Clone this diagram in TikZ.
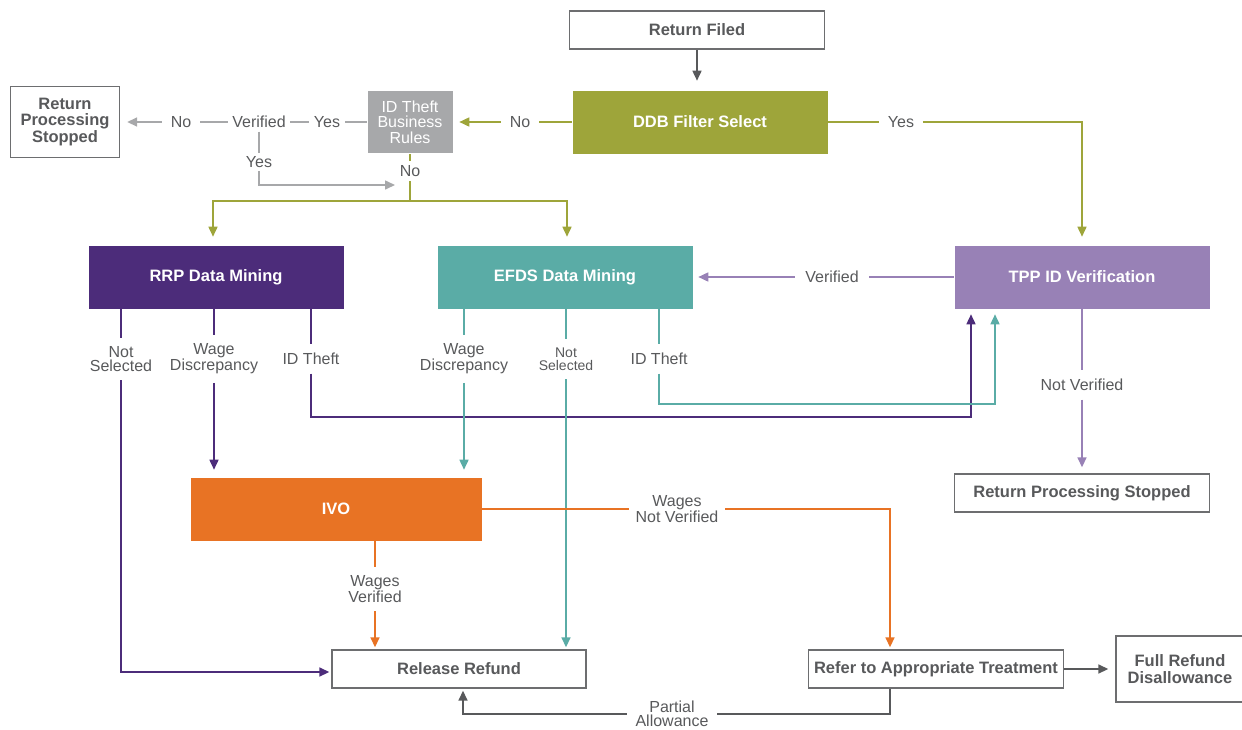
\documentclass[tikz,border=0pt]{standalone}
\usepackage{fontspec}
\setmainfont{Liberation Sans}
\usetikzlibrary{arrows.meta,positioning}
\definecolor{ddbgreen}{HTML}{9EA53A}
\definecolor{rulegray}{HTML}{A7A8AA}
\definecolor{rrppurple}{HTML}{4C2C7A}
\definecolor{efdsteal}{HTML}{5AACA6}
\definecolor{tpplilac}{HTML}{9881B6}
\definecolor{ivoorange}{HTML}{E87324}
\definecolor{txtgray}{HTML}{58595B}
\definecolor{boxgray}{HTML}{6D6E70}

\begin{document}
\begin{tikzpicture}[x=1pt,y=-1pt,line width=1.6pt,
                    >={Triangle[length=10pt,width=9pt]},
                    box node/.style={rectangle,draw=boxgray,line width=1.4pt,fill=white,text=txtgray,
                      font=\bfseries\fontsize{16.5}{16.5}\selectfont,align=center,inner sep=0pt,minimum height=38pt},
                    step node/.style={rectangle,text=white,font=\bfseries\fontsize{16.5}{16.5}\selectfont,
                      align=center,inner sep=0pt,minimum width=255pt,minimum height=63pt},
                    lbl/.style={text=txtgray,font=\fontsize{16}{14}\selectfont,align=center,inner sep=8pt},
                    small lbl/.style={lbl,font=\fontsize{14}{13}\selectfont}]
 \useasboundingbox (0,0) rectangle (1242,729);

 % boxes
 \node[box node,minimum width=255pt] (filed) at (697,30) {Return Filed};
 \node[step node,fill=ddbgreen] (ddb) at (700,122) {DDB Filter Select};
 \node[step node,fill=rulegray,minimum width=85pt,minimum height=62pt,
       font=\fontsize{16}{15.5}\selectfont] (rules) at (410,122) {ID Theft\\Business\\Rules};
 \node[box node,minimum width=109pt,minimum height=71pt] (stop1) at (65,122) {Return\\Processing\\Stopped};
 \node[step node,fill=rrppurple] (rrp) at (216,277) {RRP Data Mining};
 \node[step node,fill=efdsteal] (efds) at (565,277) {EFDS Data Mining};
 \node[step node,fill=tpplilac] (tpp) at (1082,277) {TPP ID Verification};
 \node[box node,minimum width=255pt] (stop2) at (1082,493) {Return Processing Stopped};
 \node[step node,fill=ivoorange,minimum width=291pt] (ivo) at (336,509) {IVO};
 \node[box node,minimum width=254pt] (release) at (459,669) {Release Refund};
 \node[box node,minimum width=255pt] (refer) at (936,669) {Refer to Appropriate Treatment};
 \node[box node,minimum width=128pt,minimum height=66pt] (full) at (1180,669) {Full Refund\\Disallowance};

 % labels
 \node[lbl] (no1) at (520,122) {No};
 \node[lbl,inner xsep=4pt] (yes1) at (327,122) {Yes};
 \node[lbl,inner xsep=4pt,inner ysep=3pt] (verif1) at (259,122) {Verified};
 \node[lbl] (no2) at (181,122) {No};
 \node[lbl,inner ysep=3pt] (yes2) at (259,162) {Yes};
 \node[lbl,inner ysep=4pt] (no3) at (410,171) {No};
 \node[lbl] (yes3) at (901,122) {Yes};
 \node[lbl,inner xsep=10pt] (verif2) at (832,277) {Verified};
 \node[lbl] (notver) at (1082,385) {Not Verified};
 \node[lbl] (rns) at (121,359) {Not\\Selected};
 \node[lbl] (rwd) at (214,359) {Wage\\Discrepancy};
 \node[lbl] (rid) at (311,359) {ID Theft};
 \node[lbl] (ewd) at (464,359) {Wage\\Discrepancy};
 \node[small lbl] (ens) at (566,359) {Not\\Selected};
 \node[lbl] (eid) at (659,359) {ID Theft};
 \node[lbl,inner xsep=6pt] (wnv) at (677,509) {Wages\\Not Verified};
 \node[lbl] (wv) at (375,589) {Wages\\Verified};
 \node[lbl,inner ysep=2pt] (partial) at (672,714) {Partial\\Allowance};

 \coordinate (back) at (395,185);
 \coordinate (split) at (410,201);
 \coordinate (rrpturn) at (971,417);
 \coordinate (efdsturn) at (995,404);

 % filter
 \draw[->,txtgray,shorten >=9pt] (filed) -- (filed |- ddb.north);
 \draw[ddbgreen] (ddb) -- (no1);
 \draw[->,ddbgreen,shorten >=6pt] (no1) -- (rules);
 \draw[ddbgreen] (ddb) -- (yes3);
 \draw[->,ddbgreen,shorten >=8pt] (yes3) -| (tpp);

 % business rules
 \draw[rulegray] (rules) -- (yes1);
 \draw[rulegray] (yes1) -- (verif1);
 \draw[rulegray] (verif1) -- (no2);
 \draw[->,rulegray,shorten >=7pt] (no2) -- (stop1);
 \draw[rulegray] (verif1) -- (yes2);
 \draw[->,rulegray] (yes2) |- (back);
 \draw[ddbgreen] (rules) -- (no3);
 \draw[ddbgreen] (no3) -- (split);
 \draw[->,ddbgreen,shorten >=8pt] (split) -| ([xshift=-3pt]rrp.north);
 \draw[->,ddbgreen,shorten >=8pt] (split) -| ([xshift=2pt]efds.north);

 % TPP
 \draw[tpplilac] (tpp) -- (verif2);
 \draw[->,tpplilac,shorten >=5pt] (verif2) -- (efds);
 \draw[tpplilac] (tpp) -- (notver);
 \draw[->,tpplilac,shorten >=6pt] (notver) -- (stop2);

 % RRP
 \draw[rrppurple] (rrp.south -| rns) -- (rns);
 \draw[->,rrppurple,shorten >=2pt] (rns) |- ([yshift=-3pt]release.west);
 \draw[rrppurple] (rrp.south -| rwd) -- (rwd);
 \draw[->,rrppurple,shorten >=7pt] (rwd) -- (rwd |- ivo.north);
 \draw[rrppurple] (rrp.south -| rid) -- (rid);
 \draw[->,rrppurple,shorten >=5pt] (rid) |- (rrpturn) -- (rrpturn |- tpp.south);

 % EFDS
 \draw[efdsteal] (efds.south -| ewd) -- (ewd);
 \draw[->,efdsteal,shorten >=7pt] (ewd) -- (ewd |- ivo.north);
 \draw[efdsteal] (efds.south -| ens) -- (ens);
 \draw[->,efdsteal,shorten >=2pt] (ens) -- (ens |- release.north);
 \draw[efdsteal] (efds.south -| eid) -- (eid);
 \draw[->,efdsteal,shorten >=5pt] (eid) |- (efdsturn) -- (efdsturn |- tpp.south);

 % IVO
 \draw[ivoorange] (ivo) -- (wnv);
 \draw[->,ivoorange,shorten >=2pt] (wnv) -| ([xshift=-46pt]refer.north);
 \draw[ivoorange] (ivo.south -| wv) -- (wv);
 \draw[->,ivoorange,shorten >=2pt] (wv) -- (wv |- release.north);

 % treatment
 \draw[->,txtgray,shorten >=7pt] (refer) -- (full);
 \draw[txtgray] ([xshift=-46pt]refer.south) |- (partial);
 \draw[->,txtgray,shorten >=2pt] (partial) -| ([xshift=4pt]release.south);

\end{tikzpicture}
\end{document}
